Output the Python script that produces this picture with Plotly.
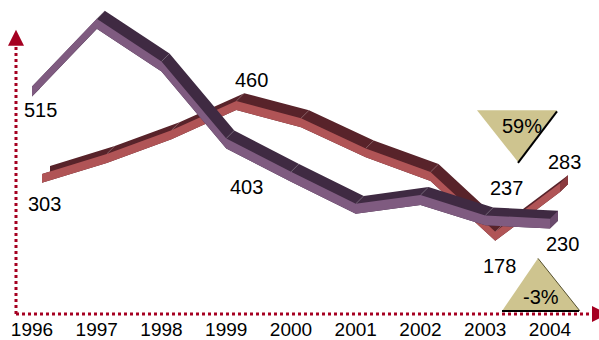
import plotly.graph_objects as go

# ---- data ----
years = ["1996", "1997", "1998", "1999", "2000", "2001", "2002", "2003", "2004"]
series_a = [515, 661, 569, 403, 331, 262, 281, 237, 230]   # purple ribbon (front)
series_b = [303, 346, 397, 460, 423, 358, 307, 178, 283]   # red ribbon (behind)
labels_a = {0: 515, 3: 403, 7: 237, 8: 230}
labels_b = {0: 303, 3: 460, 7: 178, 8: 283}
badge_up_text = "59%"
badge_down_text = "-3%"

# ---- layout geometry ----
W, H = 599, 340
MB = 22
PH = H - MB
KX = 64.75          # px per category
KY = 0.4667         # px per unit
X0 = -32 / KX
XR = [X0, X0 + W / KX]
YTOP = 337.4 / KY
YR = [YTOP - PH / KY, YTOP]

xs = list(range(len(years)))
fig = go.Figure()


def poly(px, py, color, **kw):
    fig.add_trace(go.Scatter(x=px, y=py, mode="lines", fill="toself",
                             fillcolor=color, line=dict(width=0, color=color),
                             hoverinfo="skip", showlegend=False, **kw))


def ribbon(vals, sx, sy, h, d, light, dark, cap, name):
    X = [i + sx / KX for i in xs]
    Yb = [v + sy / KY for v in vals]
    Yt = [v + (sy + h) / KY for v in vals]
    DX, DY = d / KX, d / KY
    px, py = [], []
    # back face
    px += [x + DX for x in X] + [x + DX for x in X[::-1]] + [None]
    py += [y + DY for y in Yb] + [y + DY for y in Yt[::-1]] + [None]
    for i in range(len(X) - 1):
        for E in (Yt, Yb):
            px += [X[i], X[i + 1], X[i + 1] + DX, X[i] + DX, None]
            py += [E[i], E[i + 1], E[i + 1] + DY, E[i] + DY, None]
    px += [X[0], X[0], X[0] + DX, X[0] + DX, None]
    py += [Yb[0], Yt[0], Yt[0] + DY, Yb[0] + DY, None]
    poly(px, py, dark, name=name + " depth")
    # end cap
    n = len(X) - 1
    poly([X[n], X[n], X[n] + DX, X[n] + DX], [Yb[n], Yt[n], Yt[n] + DY, Yb[n] + DY], cap)
    # bend highlights
    hx, hy = [], []
    for i in range(1, n):
        hx += [X[i], X[i] + DX, None]
        hy += [Yt[i], Yt[i] + DY, None]
    fig.add_trace(go.Scatter(x=hx, y=hy, mode="lines",
                             line=dict(width=0.8, color="rgba(255,255,255,0.35)"),
                             hoverinfo="skip", showlegend=False))
    # front face
    poly(X + X[::-1], Yb + Yt[::-1], light, name=name)


ribbon(series_b, 10, 12, 9, 8, "#B05456", "#58232A", "#8A3A3E", "Series B")
ribbon(series_a, 0, 0, 10, 8, "#7F5B80", "#3F2A42", "#6A4A6C", "Series A")

# ---- data labels ----
FONT = dict(family="Arial, Liberation Sans, sans-serif", size=20, color="#000000")
shift_a = {0: (8, -14), 3: (20, -39), 7: (21, 37), 8: (12, -15)}
shift_b = {0: (12, -9), 3: (25, 42), 7: (14, -13), 8: (14, 42)}
for i, v in labels_a.items():
    fig.add_annotation(x=i, y=v, text=str(v), showarrow=False, font=FONT,
                       xshift=shift_a[i][0], yshift=shift_a[i][1])
for i, v in labels_b.items():
    fig.add_annotation(x=i, y=v, text=str(v), showarrow=False, font=FONT,
                       xshift=shift_b[i][0], yshift=shift_b[i][1])


# ---- decorations (paper coords from pixel positions) ----
def P(x, y):
    return "%.5f,%.5f" % (x / W, (PH - y) / PH)


def path(pts, close=True):
    s = "M" + " L".join(P(x, y) for x, y in pts)
    return s + (" Z" if close else "")


AX = "#A50021"
TAN = "#CEC48F"
shapes = [
    dict(type="path", path=path([(16, 316), (16, 44)], False),
         line=dict(color=AX, width=3, dash="3px,3px")),
    dict(type="path", path=path([(16, 316), (593, 316)], False),
         line=dict(color=AX, width=3, dash="3px,3px")),
    dict(type="path", path=path([(16, 30), (24, 46), (8, 46)]),
         fillcolor=AX, line=dict(width=0)),
    dict(type="path", path=path([(592, 308), (608, 316), (592, 324)]),
         fillcolor=AX, line=dict(width=0)),
    dict(type="path", path=path([(477, 111), (557, 111), (518, 163)]),
         fillcolor=TAN, line=dict(width=0)),
    dict(type="path", path=path([(557, 112), (518, 164)], False),
         line=dict(color="#000000", width=2)),
    dict(type="path", path=path([(538, 260), (580, 313), (502, 313)]),
         fillcolor=TAN, line=dict(width=0)),
    dict(type="path", path=path([(538, 260), (580, 313)], False),
         line=dict(color="#55502F", width=1)),
    dict(type="path", path=path([(502, 313), (579, 313)], False),
         line=dict(color="#000000", width=2)),
]
for s in shapes:
    s.update(xref="paper", yref="paper", layer="above")
    fig.add_shape(**s)

BF = dict(family="Arial, Liberation Sans, sans-serif", size=20, color="#000000")
fig.add_annotation(x=522 / W, y=(PH - 127) / PH, xref="paper", yref="paper",
                   xanchor="center", yanchor="middle",
                   text=badge_up_text, showarrow=False, font=BF)
fig.add_annotation(x=541 / W, y=(PH - 299) / PH, xref="paper", yref="paper",
                   xanchor="center", yanchor="middle",
                   text=badge_down_text, showarrow=False, font=BF)

fig.update_layout(
    width=W, height=H,
    margin=dict(l=0, r=0, t=0, b=MB),
    paper_bgcolor="#FFFFFF", plot_bgcolor="rgba(0,0,0,0)",
    showlegend=False,
    xaxis=dict(range=XR, tickmode="array", tickvals=xs, ticktext=years,
               showgrid=False, zeroline=False, showline=False, ticks="",
               tickfont=dict(family="Arial, Liberation Sans, sans-serif", size=19, color="#000000"),
               fixedrange=True),
    yaxis=dict(range=YR, visible=False, showgrid=False, zeroline=False, fixedrange=True),
)

fig.write_html("out.html", config={"displayModeBar": False},
               post_script="document.body.style.margin='0';document.body.style.overflow='hidden';")
